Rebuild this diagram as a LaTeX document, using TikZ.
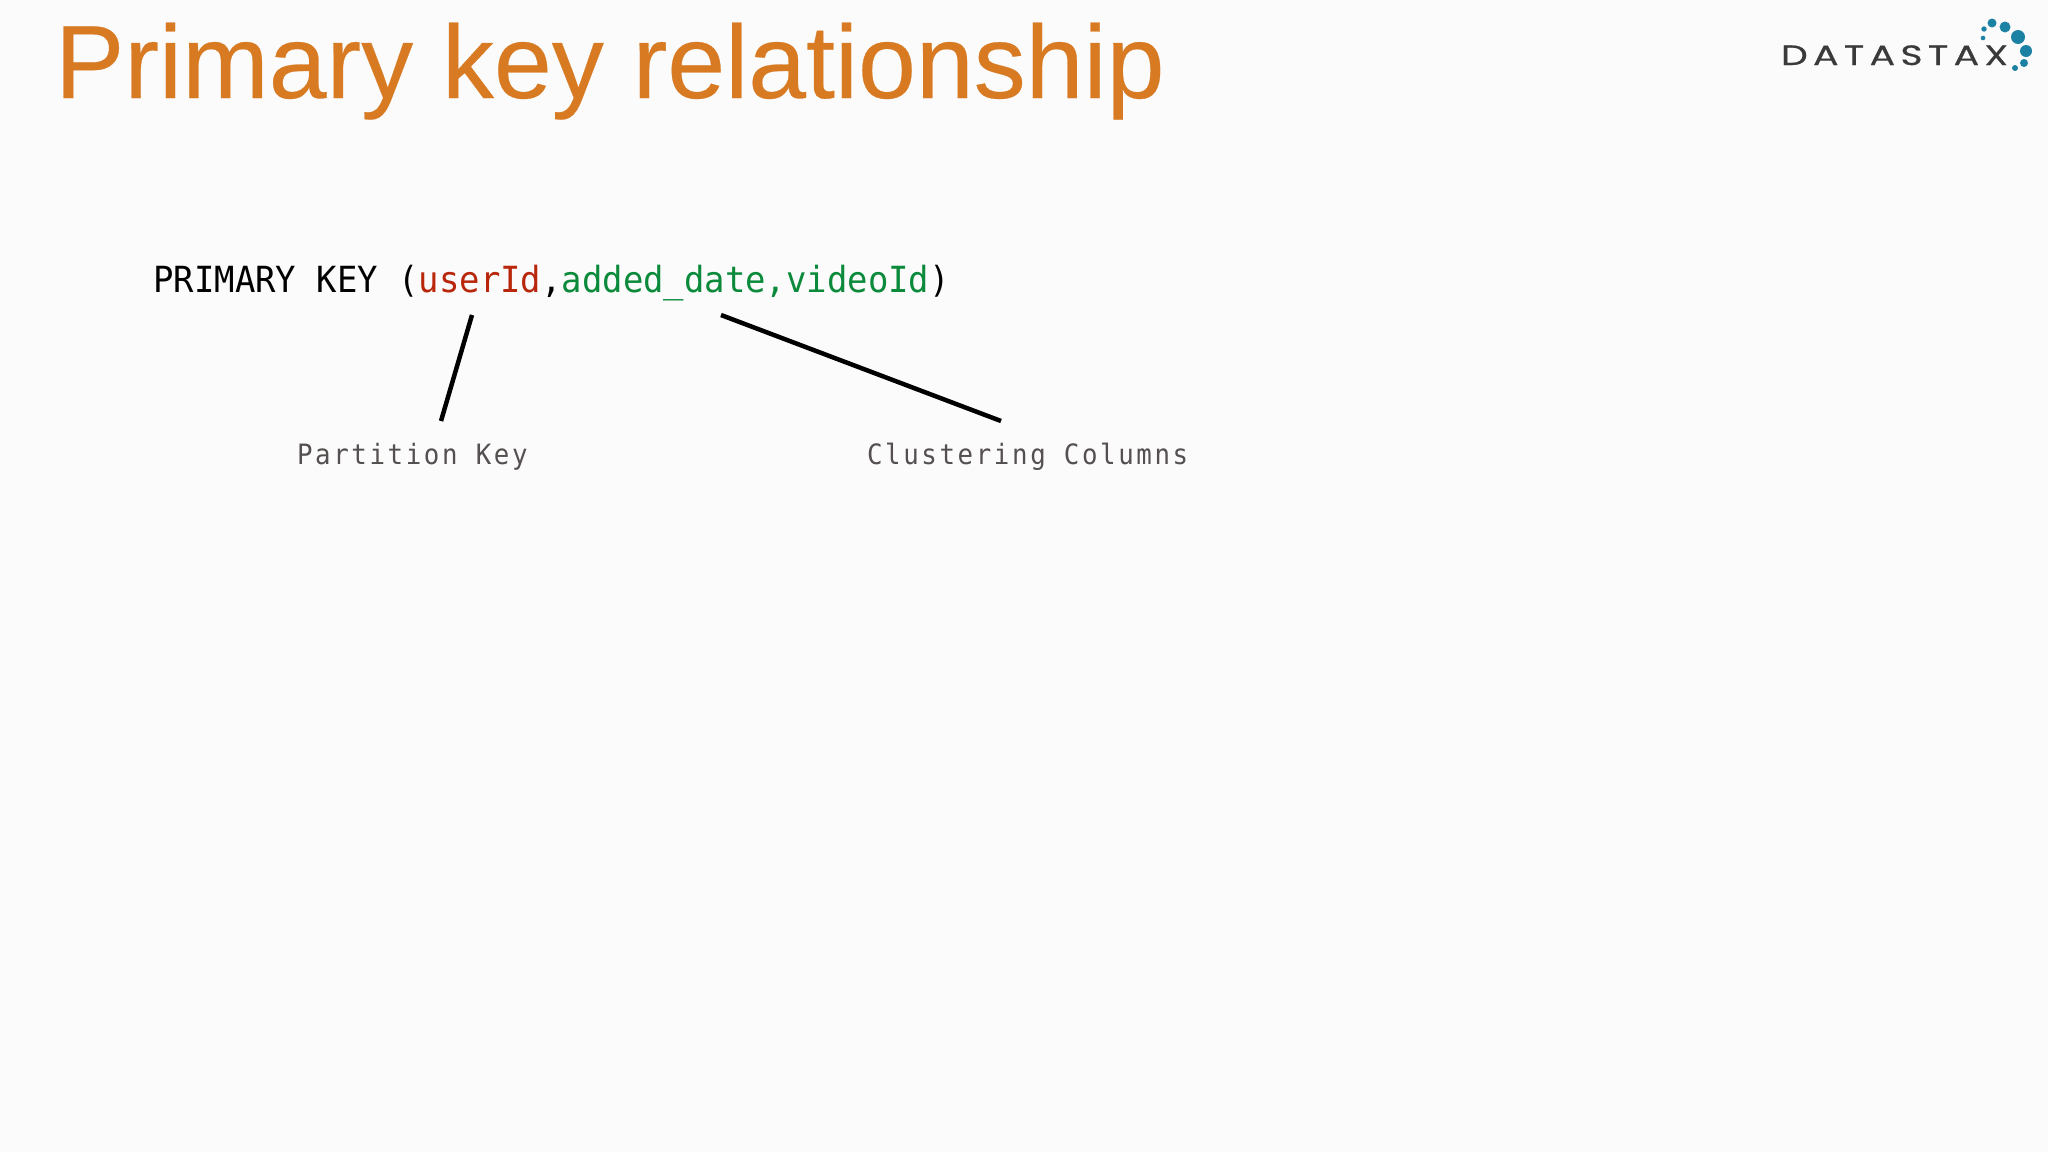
\documentclass[tikz,border=0pt]{standalone}
\usepackage{fontspec}
\setmainfont{Liberation Sans}
\newfontfamily\titlefont[FakeBold=0.25]{Liberation Sans}
\newfontfamily\codefont[FakeStretch=0.942]{DejaVu Sans Mono}
\newfontfamily\labelfont[FakeStretch=0.92,LetterSpace=9.4]{DejaVu Sans Mono}
\newfontfamily\logofont[FakeStretch=1.35,LetterSpace=19,FakeBold=0.6]{Poppins}
\definecolor{pagebg}{HTML}{FCFBFC}
\definecolor{titlecol}{HTML}{D77A22}
\definecolor{keyred}{HTML}{B8260C}
\definecolor{keygreen}{HTML}{0A8A3A}
\definecolor{labelgray}{HTML}{555050}
\definecolor{logogray}{HTML}{3A3A3A}
\definecolor{logoblue}{HTML}{1B82A4}
\tikzset{
  txt/.style={inner sep=0pt,outer sep=0pt,anchor=base west},
  leader/.style={draw=black,line width=2.25pt},
  dot/.style={fill=logoblue,draw=none},
}
\begin{document}
\begin{tikzpicture}[x=0.5pt,y=-0.5pt]
\path[fill=pagebg] (0,0) rectangle (2048,1152);
\useasboundingbox (0,0) rectangle (2048,1152);
\node[txt,text=titlecol,font=\titlefont\fontsize{52}{60}\selectfont] (title) at (55,98) {Primary key relationship};
\node[txt,font=\codefont\fontsize{18}{22}\selectfont] (code) at (153.5,292) {PRIMARY KEY (\textcolor{keyred}{userId},\textcolor{keygreen}{added\_date,videoId})};
\node[txt,text=labelgray,font=\labelfont\fontsize{14}{18}\selectfont] (pk) at (297,464) {Partition Key};
\node[txt,text=labelgray,font=\labelfont\fontsize{14}{18}\selectfont] (cc) at (867,464) {Clustering Columns};
\coordinate (pkTop) at (472,315);
\coordinate (pkEnd) at (441,421);
\coordinate (ccTop) at (721,315);
\coordinate (ccEnd) at (1001,421);
\draw[leader] (pkTop) -- (pkEnd);
\draw[leader] (ccTop) -- (ccEnd);
\node[txt,text=logogray,font=\logofont\fontsize{14}{16}\selectfont] (logo) at (1781,65) {DATASTAX};
\fill[dot] (1992,23) circle (4.5);
\fill[dot] (2005,27) circle (5.5);
\fill[dot] (2018,37) circle (7);
\fill[dot] (2026,51) circle (6);
\fill[dot] (2024,63) circle (4);
\fill[dot] (2015,68) circle (3);
\fill[dot] (1984,29) circle (2.7);
\fill[dot] (1983,38) circle (2.3);
\end{tikzpicture}
\end{document}
